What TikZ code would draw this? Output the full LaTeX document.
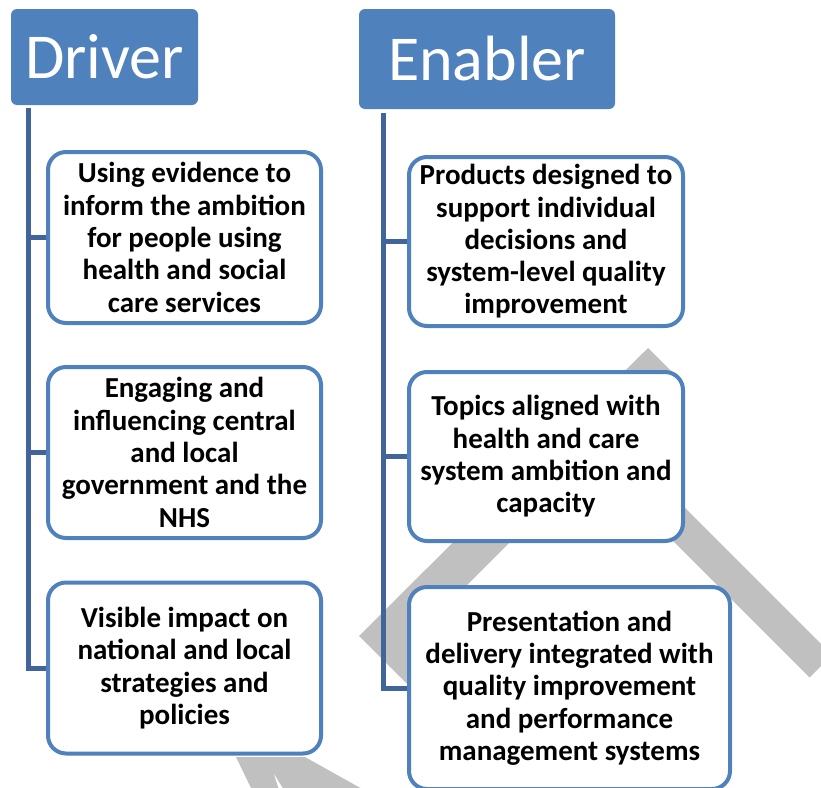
\documentclass[tikz,border=0pt]{standalone}
\usepackage{fontspec}
\setmainfont{Carlito}
\usetikzlibrary{backgrounds}
\definecolor{headblue}{HTML}{4F81BD}
\definecolor{linkblue}{HTML}{41659A}
\definecolor{markgrey}{HTML}{C0C0C0}
\tikzset{
	head/.style={fill=headblue, text=white, rounded corners=6pt, inner sep=0pt, font=\fontsize{64}{70}\selectfont},
	item/.style={draw=headblue, line width=4pt, fill=white, rounded corners=18pt, inner sep=0pt, align=center, font=\fontsize{29}{32.3}\selectfont\bfseries},
	link/.style={draw=linkblue, line width=5pt},
}
\begin{document}
\begin{tikzpicture}[x=1pt, y=-1pt, line join=miter]
			\def\w{273pt}
			\def\h{171pt}
			\useasboundingbox (0,0) rectangle (821,787);
			\node[head, minimum width=187pt, minimum height=96pt] (drv) at (104.5,57) {Driver};
			\node[head, minimum width=256pt, minimum height=100pt] (enb) at (487,59) {Enabler};
			\coordinate (dtop) at (28,108);
			\coordinate (etop) at (383,113);
			\node[item, minimum width=\w, minimum height=\h] (d1) at (184.5,237.5) {Using evidence to\\inform the ambition\\for people using\\health and social\\care services};
			\node[item, minimum width=\w, minimum height=\h] (d2) at (184.5,452.5) {Engaging and\\influencing central\\and local\\government and the\\NHS};
			\node[item, minimum width=\w, minimum height=\h] (d3) at (184.5,668) {Visible impact on\\national and local\\strategies and\\policies};
			\node[item, minimum width=274pt, minimum height=169pt] (e1) at (546,241.5) {Products designed to\\support individual\\decisions and\\system-level quality\\improvement};
			\node[item, minimum width=274pt, minimum height=169pt] (e2) at (546,456.5) {Topics aligned with\\health and care\\system ambition and\\capacity};
			\node[item, minimum width=321pt, minimum height=202pt] (e3) at (569.5,688) {Presentation and\\delivery integrated with\\quality improvement\\and performance\\management systems};
			\begin{pgfonlayer}{background}
				\fill[markgrey] (359,636) -- (648,348) -- (672,372) -- (640,420) -- (520,532) -- (460,592) -- (415,691.7) -- cycle;
				\fill[markgrey] (600,423) -- (832,655) -- (809.5,677.5) -- (620,488) -- cycle;
				\fill[markgrey] (236,757) -- (305,757) -- (364,790) -- (284,790) -- (273.5,773) -- (279,790) -- (252,790) -- cycle;
				\draw[link] (dtop) |- (d3.west);
				\draw[link] (etop) |- (e3.west);
				\foreach \n in {d1,d2} \draw[link] (dtop |- \n.west) -- (\n.west);
				\foreach \n in {e1,e2} \draw[link] (etop |- \n.west) -- (\n.west);
			\end{pgfonlayer}
		\end{tikzpicture}
\end{document}
